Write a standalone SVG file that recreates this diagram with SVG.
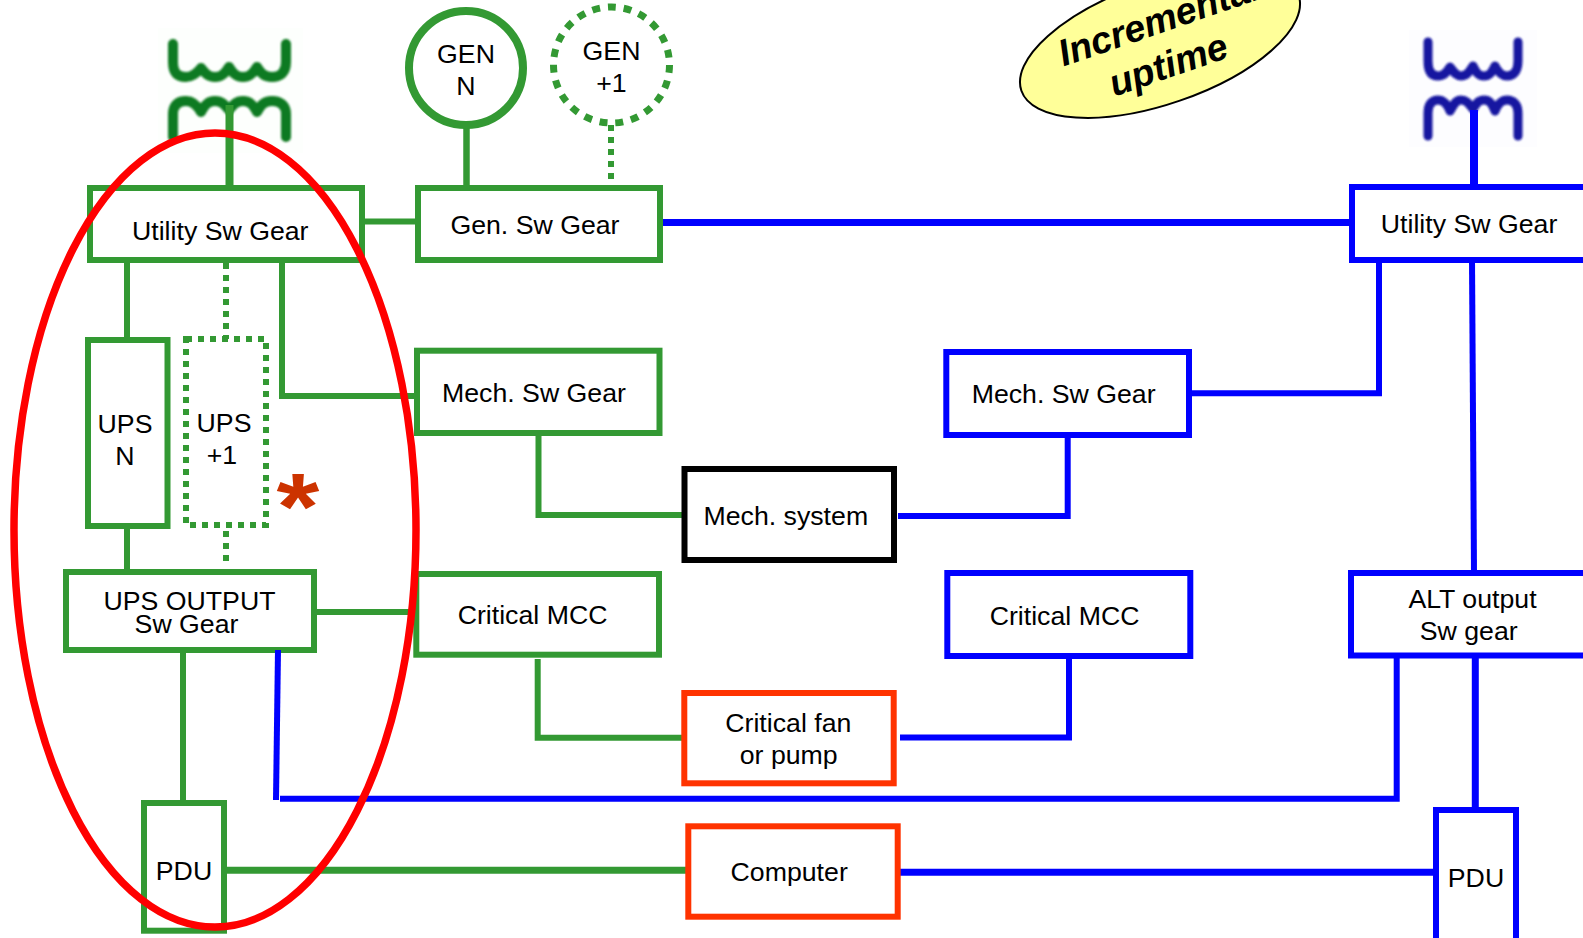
<svg xmlns="http://www.w3.org/2000/svg" width="1583" height="938" viewBox="0 0 1583 938">
<style>
text{font-family:"Liberation Sans",Arial,sans-serif;font-size:26.7px;fill:#000;transform:translateY(.8px)}
.m{text-anchor:middle}
.box{fill:#fff;stroke-width:6}
.g{stroke:#339933}
.b{stroke:#0000ff}
.o{stroke:#ff3300}
.k{stroke:#000}
.dot{stroke-dasharray:6 6}
.c{fill:none;stroke-width:6}
.coil{fill:none;stroke-width:10;stroke-linecap:round;stroke-linejoin:round;filter:url(#soft)}
</style>
<defs><filter id="soft" x="-10%" y="-20%" width="120%" height="140%"><feGaussianBlur stdDeviation="0.8"/></filter></defs>
<rect width="1583" height="938" fill="#fff"/>
<g id="transformer-green">
<rect x="158" y="28" width="145" height="125" fill="#fdfffd"/>
<path class="coil" stroke="#107a20" d="M173 44V62C173 73 178 77 186 77C193 77 197 73 201 68C205 73 208 77 215 77C222 77 225 73 229 67C233 73 236 77 243 77C250 77 253 73 257 67C261 73 264 77 272 77C280 77 286 73 286 62V44"/>
<path class="coil" stroke="#107a20" d="M173 137V114C173 105 178 101 186 101C193 101 197 105 201 112C205 105 208 101 215 101C222 101 225 105 229 110C233 105 236 101 243 101C250 101 253 105 257 112C261 105 264 101 272 101C280 101 286 105 286 114V137"/>
</g>
<g id="transformer-blue">
<rect x="1409" y="30" width="128" height="117" fill="#fdfdff"/>
<path class="coil" stroke="#1212a0" style="stroke-width:9" d="M1428 42V61C1428 72 1432 76 1438 76C1444 76 1447 72 1450 67C1454 72 1456 76 1461 76C1467 76 1469 72 1473 66C1476 72 1478 76 1484 76C1490 76 1492 72 1495 66C1498 72 1501 76 1507 76C1513 76 1518 72 1518 61V42"/>
<path class="coil" stroke="#1212a0" style="stroke-width:9" d="M1428 136V113C1428 104 1432 100 1438 100C1444 100 1447 104 1450 111C1454 104 1456 100 1461 100C1467 100 1469 104 1473 109C1476 104 1478 100 1484 100C1490 100 1492 104 1495 111C1498 104 1501 100 1507 100C1513 100 1518 104 1518 113V136"/>
</g>
<g id="connectors">
<path class="c g" style="stroke-width:8" d="M229.500 105V188"/>
<path class="c g" style="stroke-width:6.500" d="M466.500 120V188"/>
<path class="c g dot" d="M611 125V180"/>
<path class="c g" d="M362 221.500H418"/>
<path class="c b" style="stroke-width:7" d="M660 222.500H1352"/>
<path class="c b" style="stroke-width:8" d="M1474 110V188"/>
<path class="c g" d="M127 260V340"/>
<path class="c g dot" d="M226 263V339"/>
<path class="c g" d="M282 260V396H417"/>
<path class="c g" d="M127 526V572"/>
<path class="c g dot" d="M226 531V567"/>
<path class="c g" d="M314 612H416"/>
<path class="c g" d="M538.500 433V515H684"/>
<path class="c g" d="M537.700 659V737.700H684"/>
<path class="c b" d="M898 516H1067.700V435"/>
<path class="c b" d="M1189 393.300H1379V260"/>
<path class="c b" d="M900 737.500H1069V656"/>
<path class="c b" d="M1472 260L1474 573"/>
<path class="c b" style="stroke-width:7" d="M1475.300 655V810"/>
<path class="c g" d="M183 650V803"/>
<path class="c b" d="M280 798.700H1396.700V656"/>
<path class="c g" style="stroke-width:7" d="M224 870.300H688"/>
<path class="c b" style="stroke-width:7" d="M897 872.300H1436"/>
</g>
<g id="gen-n"><circle class="box g" style="stroke-width:8" cx="466" cy="68" r="57"/><text class="m" x="466" y="62">GEN</text><text class="m" x="466" y="94">N</text></g>
<g id="gen-1"><circle class="box g dot" style="stroke-width:7;stroke-dasharray:7.920 7.920" cx="611.500" cy="65" r="58"/><text class="m" x="611.500" y="59">GEN</text><text class="m" x="611.500" y="91">+1</text></g>
<g id="utility-left"><rect class="box g" x="90" y="188" width="272" height="72"/><text x="132" y="239">Utility Sw Gear</text></g>
<g id="gen-gear"><rect class="box g" x="418" y="188" width="242" height="72"/><text x="450.400" y="233">Gen. Sw Gear</text></g>
<g id="utility-right"><rect class="box b" x="1352" y="187" width="260" height="73"/><text x="1380.800" y="232.700">Utility Sw Gear</text></g>
<g id="ups-n"><rect class="box g" x="88" y="340" width="79.500" height="186"/><text class="m" x="125" y="432">UPS</text><text class="m" x="125" y="464">N</text></g>
<g id="ups-1"><rect class="box g dot" x="186" y="339" width="80" height="186"/><text class="m" x="224" y="431">UPS</text><text class="m" x="222" y="463">+1</text></g>
<g id="ups-output"><rect class="box g" x="66" y="572" width="248" height="78"/><text class="m" x="189.500" y="609">UPS OUTPUT</text><text class="m" x="186.500" y="632">Sw Gear</text></g>
<g id="mech-left"><rect class="box g" x="417" y="350.700" width="242.500" height="82.300"/><text x="442" y="401.700">Mech. Sw Gear</text></g>
<g id="mech-system"><rect class="box k" x="684.500" y="469" width="209.500" height="91"/><text x="703.500" y="524">Mech. system</text></g>
<g id="mech-right"><rect class="box b" x="946.300" y="352" width="242.700" height="83"/><text x="971.700" y="402.700">Mech. Sw Gear</text></g>
<g id="critical-left"><rect class="box g" x="416.300" y="574" width="242.700" height="80.700"/><text x="457.700" y="623.300">Critical MCC</text></g>
<g id="critical-right"><rect class="box b" x="947.300" y="573" width="243" height="83"/><text x="989.700" y="624">Critical MCC</text></g>
<g id="fan"><rect class="box o" x="684.300" y="693" width="209.400" height="90.300"/><text class="m" x="788.300" y="731.700">Critical fan</text><text class="m" x="788.700" y="763.300">or pump</text></g>
<g id="alt-output"><rect class="box b" x="1351" y="573" width="260" height="82.500"/><text class="m" x="1472.500" y="607.700">ALT output</text><text class="m" x="1468.700" y="639">Sw gear</text></g>
<g id="pdu-left"><rect class="box g" x="144" y="803" width="80" height="127.700"/><text class="m" x="184" y="879">PDU</text></g>
<g id="computer"><rect class="box o" x="688.300" y="826.300" width="209.400" height="90.400"/><text class="m" x="789.200" y="880">Computer</text></g>
<g id="pdu-right"><rect class="box b" x="1436" y="810" width="80" height="132"/><text class="m" x="1476" y="886.700">PDU</text></g>
<g id="connectors-over"><path class="c b" d="M278 650L276 800"/></g>
<g transform="translate(298 538) scale(1.1 .95)"><text id="asterisk" class="m" style="font-size:100px;font-weight:bold;fill:#cc3300">*</text></g>
<ellipse id="red-ellipse" cx="215" cy="530" rx="201" ry="397" fill="none" stroke="#ff0000" stroke-width="7.500"/>
<g id="callout"><ellipse cx="1160" cy="43" rx="146.600" ry="61" transform="rotate(-19 1160 43)" fill="#ffff99" stroke="#000" stroke-width="2"/>
<g transform="translate(1172 76) rotate(-19)" style="font-weight:bold;font-style:italic"><text x="-99.500" y="-45" style="font-size:37.500px">Incremental</text><text class="m" x="0" y="0" style="font-size:37.500px">uptime</text></g></g>
</svg>
